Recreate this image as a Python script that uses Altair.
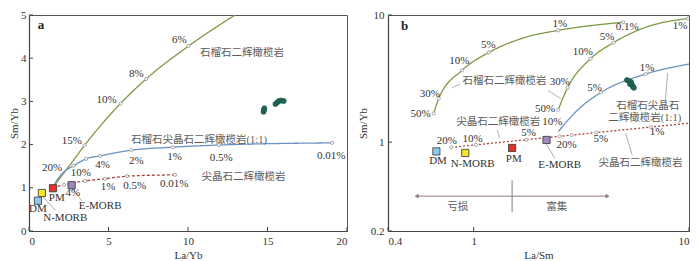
import altair as alt
import pandas as pd

FONT = "Liberation Serif, Noto Sans CJK SC"
GREEN = "#7f9a45"
BLUE = "#6a93c4"
RED = "#a3453e"
LEAD = "#a8938f"
MARK = "#9a9a9a"
TXT = "#333333"
CJK = "#5c5c5c"

WA, HA = 318, 216
WB, HB = 301, 216

# ---------------- Panel a (La/Yb vs Sm/Yb) ----------------
a_grt_x = [1.5, 2.0, 2.6, 3.49, 5.75, 7.37, 10.03, 12.96]
a_grt_y = [1.0, 1.25, 1.54, 1.98, 2.95, 3.52, 4.28, 5.0]
a_grt_mx = [3.49, 5.75, 7.37, 10.03]
a_grt_my = [1.98, 2.95, 3.52, 4.28]

a_mix_x = [1.5, 1.8, 2.18, 2.8, 3.59, 4.47, 6.44, 9.03, 11.94, 19.07]
a_mix_y = [1.0, 1.2, 1.36, 1.51, 1.67, 1.74, 1.87, 1.94, 1.99, 2.04]
a_mix_mx = [2.8, 3.59, 4.47, 6.44, 9.03, 11.94, 19.07]
a_mix_my = [1.51, 1.67, 1.74, 1.87, 1.94, 1.99, 2.04]

a_spl_x = [1.5, 2.2, 3.53, 4.78, 6.17, 9.18]
a_spl_y = [1.0, 1.07, 1.16, 1.21, 1.27, 1.30]
a_spl_mx = [2.2, 3.53, 4.78, 6.17, 9.18]
a_spl_my = [1.07, 1.16, 1.21, 1.27, 1.30]

a_samp_x = [14.75, 14.78, 14.80, 15.50, 15.62, 15.72, 15.85, 16.02]
a_samp_y = [2.76, 2.80, 2.84, 2.94, 2.98, 3.01, 3.02, 3.01]

end_names = ["DM", "N-MORB", "PM", "E-MORB"]
end_colors = ["#8ec9ea", "#f4e526", "#e2302a", "#9c87bb"]
a_end_x = [0.56, 0.81, 1.51, 2.68]
a_end_y = [0.70, 0.88, 0.99, 1.06]

a_lab_text = ["20%", "15%", "10%", "8%", "6%",
              "10%", "4%", "2%", "1%", "0.5%", "0.01%",
              "4%", "1%", "0.5%", "0.01%",
              "PM", "DM", "N-MORB", "E-MORB",
              "石榴石二辉橄榄岩", "石榴石尖晶石二辉橄榄岩(1:1)", "尖晶石二辉橄榄岩"]
a_lab_x = [1.45, 2.7, 4.88, 6.75, 9.45,
           3.26, 4.63, 6.75, 9.16, 12.09, 19.0,
           2.76, 4.98, 6.65, 9.14,
           1.75, 0.56, 2.28, 4.47,
           13.4, 10.69, 13.49]
a_lab_y = [1.45, 2.09, 3.03, 3.63, 4.41,
           1.34, 1.53, 1.63, 1.71, 1.70, 1.73,
           0.87, 1.01, 1.05, 1.08,
           0.77, 0.50, 0.30, 0.57,
           4.12, 2.105, 1.25]

a_lead_x = [0.83, 2.70]
a_lead_y = [0.81, 0.99]
a_lead_x2 = [1.66, 3.32]
a_lead_y2 = [0.48, 0.70]

a_xticks = [0, 5, 10, 15, 20]
a_yticks = [0, 1, 2, 3, 4, 5]

# ---------------- Panel b (La/Sm vs Sm/Yb) ----------------
b_grt1_x = [0.652, 0.688, 0.883, 1.178, 1.736, 2.47, 4.95]
b_grt1_y = [1.684, 2.2, 3.67, 5.08, 6.67, 7.57, 8.77]
b_grt1_mx = [0.652, 0.688, 0.883, 1.178, 2.47, 4.95]
b_grt1_my = [1.684, 2.2, 3.67, 5.08, 7.57, 8.77]

b_grt2_x = [2.47, 2.73, 3.49, 4.46, 6.17, 9.92]
b_grt2_y = [1.80, 2.68, 4.53, 6.06, 7.91, 9.39]
b_grt2_mx = [2.47, 2.73, 3.49, 4.46, 9.92]
b_grt2_my = [1.80, 2.68, 4.53, 6.06, 9.39]

b_mix_x = [2.47, 3.05, 3.90, 6.28, 10.0]
b_mix_y = [1.21, 1.80, 2.46, 3.43, 4.11]
b_mix_mx = [3.90, 6.28]
b_mix_my = [2.46, 3.43]

b_spl_x = [0.786, 10.0]
b_spl_y = [0.91, 1.41]
b_spl_mx = [0.786, 1.024, 1.754, 2.51, 2.85, 3.71, 6.64]
b_spl_my = [0.91, 0.952, 1.045, 1.111, 1.136, 1.189, 1.314]

b_samp_x = [5.15, 5.26, 5.38, 5.32, 5.43, 5.49, 5.55]
b_samp_y = [3.08, 3.03, 2.97, 2.87, 2.83, 2.73, 2.68]

b_end_x = [0.671, 0.914, 1.508, 2.18]
b_end_y = [0.845, 0.822, 0.90, 1.04]

b_lab_text = ["50%", "30%", "10%", "5%", "1%", "0.1%",
              "50%", "30%", "10%", "5%", "1%",
              "10%", "5%", "1%",
              "20%", "10%", "5%", "20%", "5%", "1%",
              "DM", "N-MORB", "PM", "E-MORB",
              "石榴石二辉橄榄岩", "尖晶石二辉橄榄岩", "石榴石尖晶石",
              "二辉橄榄岩(1:1)", "尖晶石二辉橄榄岩", "亏损", "富集"]
b_lab_x = [0.567, 0.625, 0.858, 1.171, 2.51, 5.17,
           2.145, 2.51, 3.21, 4.16, 9.09,
           2.317, 3.64, 6.39,
           0.751, 0.989, 1.80, 2.70, 3.90, 7.10,
           0.683, 0.989, 1.535, 2.51,
           1.39, 1.30, 6.43,
           6.23, 5.96, 0.844, 2.43]
b_lab_y = [1.655, 2.39, 4.35, 5.86, 8.47, 8.01,
           1.82, 2.97, 5.16, 6.75, 8.15,
           1.45, 2.68, 3.82,
           1.019, 1.062, 1.18, 0.947, 1.067, 1.196,
           0.705, 0.676, 0.733, 0.665,
           3.03, 1.44, 1.94,
           1.56, 0.681, 0.308, 0.308]

b_lead_x = [0.795, 2.22, 1.288, 7.95, 5.08, 2.18]
b_lead_y = [2.68, 2.54, 1.245, 3.47, 1.176, 0.963]
b_lead_x2 = [0.865, 2.54, 1.319, 7.76, 5.45, 2.38]
b_lead_y2 = [2.87, 2.20, 1.08, 2.08, 0.789, 0.745]

# enrichment arrow and divider
b_arrow_x = [0.543, 4.19]
b_arrow_y = 0.376
b_div_x = 1.508
b_div_y = [0.50, 0.2815]

b_xticks = [0.4, 1, 10]
b_yticks = [0.2, 1, 10]


def is_cjk(s):
    return any(ord(ch) > 0x2E80 for ch in s)


def build_panel(W, H, xscale, yscale, xtitle, ytitle, xticks, yticks, fmt,
                curves, samples_x, samples_y, end_x, end_y,
                lab_text, lab_x, lab_y, lead, letter, letter_xy,
                ytitle_pad, ylabel_pad, extra=None):
    xaxis = alt.Axis(values=xticks, format=fmt, title=xtitle, tickSize=0,
                     labelPadding=4, titlePadding=3)
    yaxis = alt.Axis(values=yticks, format=fmt, title=ytitle, tickSize=0,
                     labelPadding=ylabel_pad, titlePadding=ytitle_pad)

    def X(f):
        return alt.X(f, type="quantitative", scale=xscale, axis=xaxis)

    def Y(f):
        return alt.Y(f, type="quantitative", scale=yscale, axis=yaxis)

    layers = []
    for cx, cy, mx, my, color, dash in curves:
        dfl = pd.DataFrame({"x": cx, "y": cy})
        lm = alt.Chart(dfl).mark_line(interpolate="monotone", clip=True,
                                      color=color, strokeWidth=1.3,
                                      strokeDash=dash)
        layers.append(lm.encode(x=X("x"), y=Y("y")))
        dfm = pd.DataFrame({"x": mx, "y": my})
        layers.append(alt.Chart(dfm).mark_point(shape="circle", size=10, filled=True,
                                                fill="white", stroke=MARK,
                                                strokeWidth=0.9, opacity=1,
                                                clip=True)
                      .encode(x=X("x"), y=Y("y")))

    dl = pd.DataFrame({"x": lead[0], "y": lead[1], "x2": lead[2], "y2": lead[3]})
    layers.append(alt.Chart(dl).mark_rule(color=LEAD, strokeWidth=0.8)
                  .encode(x=X("x"), y=Y("y"), x2="x2", y2="y2"))

    if extra is not None:
        layers.extend(extra(X, Y))

    ds = pd.DataFrame({"x": samples_x, "y": samples_y})
    layers.append(alt.Chart(ds).mark_circle(size=26, color="#1f6b5b", opacity=1,
                                            stroke="#154a40", strokeWidth=0.6)
                  .encode(x=X("x"), y=Y("y")))

    de = pd.DataFrame({"x": end_x, "y": end_y, "c": end_colors, "n": end_names})
    layers.append(alt.Chart(de).mark_square(size=52, opacity=1, stroke="#333333",
                                            strokeWidth=0.8)
                  .encode(x=X("x"), y=Y("y"), fill=alt.Fill("c:N", scale=None)))

    dt = pd.DataFrame({"x": lab_x, "y": lab_y, "t": lab_text,
                       "c": [CJK if is_cjk(t) else TXT for t in lab_text],
                       "s": [10.5 if is_cjk(t) else 11 for t in lab_text]})
    layers.append(alt.Chart(dt).mark_text(font=FONT, baseline="middle")
                  .encode(x=X("x"), y=Y("y"), text="t:N",
                          color=alt.Color("c:N", scale=None),
                          size=alt.Size("s:Q", scale=None)))

    dlet = pd.DataFrame({"x": [letter_xy[0]], "y": [letter_xy[1]], "t": [letter]})
    layers.append(alt.Chart(dlet).mark_text(font=FONT, fontSize=13, fontWeight="bold",
                                            align="left", baseline="middle", color="#222")
                  .encode(x=X("x"), y=Y("y"), text="t:N"))

    # inward ticks
    dxt = pd.DataFrame({"x": xticks})
    layers.append(alt.Chart(dxt).mark_rule(color="#444", strokeWidth=1)
                  .encode(x=X("x"), y=alt.value(H), y2=alt.value(H - 4)))
    dyt = pd.DataFrame({"y": yticks})
    layers.append(alt.Chart(dyt).mark_rule(color="#444", strokeWidth=1)
                  .encode(y=Y("y"), x=alt.value(0), x2=alt.value(4)))

    return alt.layer(*layers).properties(width=W, height=H)


xs_a = alt.Scale(domain=[0, 20], nice=False, zero=False)
ys_a = alt.Scale(domain=[0, 5], nice=False, zero=False)
xs_b = alt.Scale(type="log", domain=[0.4, 10], nice=False)
ys_b = alt.Scale(type="log", domain=[0.2, 10], nice=False)

pa = build_panel(
    WA, HA, xs_a, ys_a, "La/Yb", "Sm/Yb", a_xticks, a_yticks, "d",
    [(a_grt_x, a_grt_y, a_grt_mx, a_grt_my, GREEN, [1, 0]),
     (a_mix_x, a_mix_y, a_mix_mx, a_mix_my, BLUE, [1, 0]),
     (a_spl_x, a_spl_y, a_spl_mx, a_spl_my, RED, [3, 2])],
    a_samp_x, a_samp_y, a_end_x, a_end_y,
    a_lab_text, a_lab_x, a_lab_y,
    (a_lead_x, a_lead_y, a_lead_x2, a_lead_y2),
    "a", (0.55, 4.78), ytitle_pad=1, ylabel_pad=3)


def b_extra(X, Y):
    out = []
    dh = pd.DataFrame({"x": [b_arrow_x[0]], "x2": [b_arrow_x[1]], "y": [b_arrow_y]})
    out.append(alt.Chart(dh).mark_rule(color="#8c7b78", strokeWidth=1)
               .encode(x=X("x"), x2="x2", y=Y("y")))
    dv = pd.DataFrame({"x": [b_div_x], "y": [b_div_y[0]], "y2": [b_div_y[1]]})
    out.append(alt.Chart(dv).mark_rule(color="#8c7b78", strokeWidth=1)
               .encode(x=X("x"), y=Y("y"), y2="y2"))
    da = pd.DataFrame({"x": b_arrow_x, "y": [b_arrow_y, b_arrow_y],
                       "s": ["triangle-left", "triangle-right"]})
    out.append(alt.Chart(da).mark_point(filled=True, size=22, color="#8c7b78", opacity=1)
               .encode(x=X("x"), y=Y("y"), shape=alt.Shape("s:N", scale=None)))
    return out


pb = build_panel(
    WB, HB, xs_b, ys_b, "La/Sm", "Sm/Yb", b_xticks, b_yticks, "~g",
    [(b_grt1_x, b_grt1_y, b_grt1_mx, b_grt1_my, GREEN, [1, 0]),
     (b_grt2_x, b_grt2_y, b_grt2_mx, b_grt2_my, GREEN, [1, 0]),
     (b_mix_x, b_mix_y, b_mix_mx, b_mix_my, BLUE, [1, 0]),
     (b_spl_x, b_spl_y, b_spl_mx, b_spl_my, RED, [2, 2])],
    b_samp_x, b_samp_y, b_end_x, b_end_y,
    b_lab_text, b_lab_x, b_lab_y,
    (b_lead_x, b_lead_y, b_lead_x2, b_lead_y2),
    "b", (0.46, 8.15), ytitle_pad=2, ylabel_pad=4, extra=b_extra)

chart = (
    alt.hconcat(pa, pb, spacing=8)
    .properties(padding={"left": 0, "top": 0, "right": 0, "bottom": 0},
                background="white")
    .configure_view(stroke="#555555", strokeWidth=1)
    .configure_axis(labelFont=FONT, titleFont=FONT, labelFontSize=11,
                    titleFontSize=11, titleFontWeight="normal", grid=False,
                    domainColor="#444444", domainWidth=1.2,
                    labelColor="#333333", titleColor="#333333")
)

chart.save("out.html", embed_options={"renderer": "svg", "actions": False})
